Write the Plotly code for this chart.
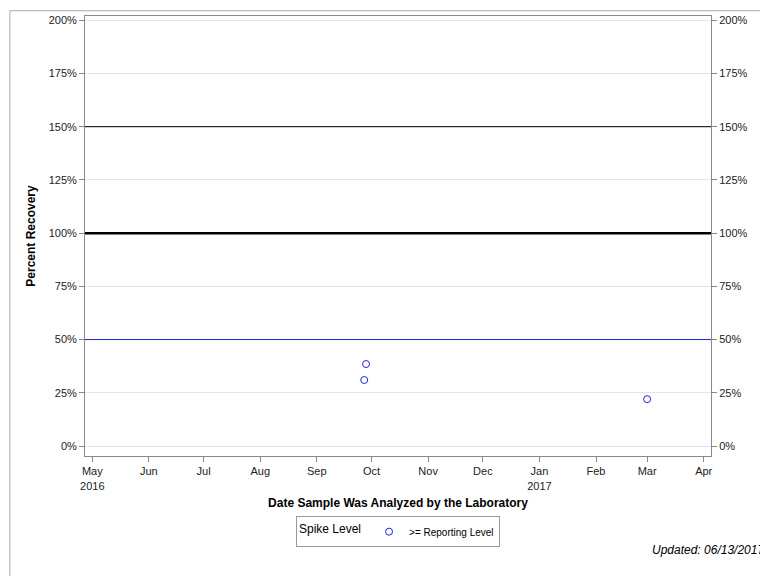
import plotly.graph_objects as go

dates = ["2016-09-28", "2016-09-27", "2017-03-01"]
recovery = [38.5, 31, 22]

tick_dates = ["2016-05-01", "2016-06-01", "2016-07-01", "2016-08-01", "2016-09-01", "2016-10-01",
              "2016-11-01", "2016-12-01", "2017-01-01", "2017-02-01", "2017-03-01", "2017-04-01"]
tick_text = ["May<br>2016", "Jun", "Jul", "Aug", "Sep", "Oct", "Nov", "Dec", "Jan<br>2017", "Feb", "Mar", "Apr"]
y_ticks = [0, 25, 50, 75, 100, 125, 150, 175, 200]
y_text = [f"{v}%" for v in y_ticks]

fig = go.Figure()
fig.add_trace(go.Scatter(x=dates, y=recovery, mode="markers", name=">= Reporting Level",
                         marker=dict(symbol="circle-open", color="#2020e0", size=7, line=dict(width=1))))
# invisible trace to drive the right axis
fig.add_trace(go.Scatter(x=[dates[0]], y=[recovery[0]], yaxis="y2", mode="markers",
                         marker=dict(opacity=0), showlegend=False, hoverinfo="skip"))

yax = dict(range=[-4.7, 202], tickvals=y_ticks, ticktext=y_text, zeroline=False, showline=True,
           linecolor="#888", ticks="outside", tickcolor="#888", ticklen=5,
           tickfont=dict(size=11, color="#222"))
fig.update_layout(
    width=768, height=576, plot_bgcolor="white", paper_bgcolor="white",
    font=dict(family="Arial, Liberation Sans", color="#000"),
    margin=dict(l=77, r=65, t=6, b=128),
    xaxis=dict(range=["2016-04-27", "2017-04-05"], tickvals=tick_dates, ticktext=tick_text,
               showgrid=False, showline=True, linecolor="#888", mirror=True, ticks="outside",
               tickcolor="#888", ticklen=5, tickfont=dict(size=11, color="#222"),
               title=dict(text="<b>Date Sample Was Analyzed by the Laboratory</b>", font=dict(size=12), standoff=8)),
    yaxis=dict(**yax, showgrid=True, gridcolor="#e4e4e4",
               title=dict(text="<b>Percent Recovery</b>", font=dict(size=12), standoff=10)),
    yaxis2=dict(**yax, showgrid=False, overlaying="y", side="right"),
    legend=dict(orientation="h", x=0.5, xanchor="center", y=-0.172, yanchor="middle",
                bordercolor="#999", borderwidth=1, font=dict(size=10),
                title=dict(text="Spike Level", font=dict(size=12))),
    showlegend=True,
    annotations=[dict(text="<i>Updated: 06/13/2017</i>", xref="paper", yref="paper", x=1.09, y=-0.235,
                      xanchor="right", yanchor="bottom", showarrow=False, font=dict(size=12))],
)

fig.add_hline(y=150, line_color="black", line_width=1)
fig.add_hline(y=100, line_color="black", line_width=2.5)
fig.add_hline(y=50, line_color="#2020e0", line_width=1)
fig.add_shape(type="rect", xref="paper", yref="paper", x0=-0.12, x1=1.1, y0=-0.285, y1=1.012,
              line=dict(color="#aaa", width=1))

fig.write_html("out.html")
